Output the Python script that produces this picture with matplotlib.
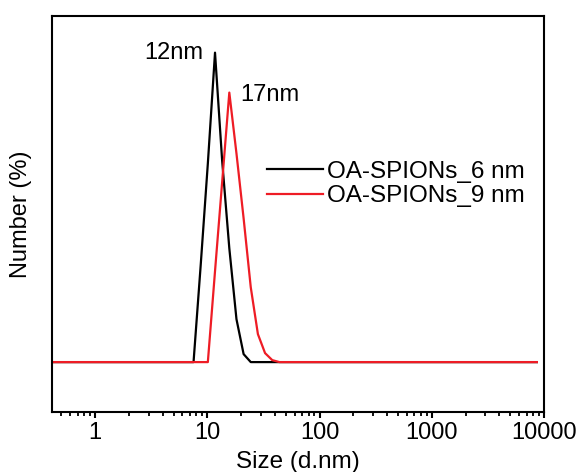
import numpy as np
import matplotlib
matplotlib.use('Agg')
import matplotlib.pyplot as plt

plt.rcParams['font.family'] = ['Liberation Sans', 'DejaVu Sans']

# size bins (d.nm) and number distribution (%)
sizes = [0.4, 7.531, 8.721, 10.10, 11.70, 13.54, 15.69, 18.17, 21.04,
         24.36, 28.21, 32.67, 37.84, 43.82, 8635]
num_6nm = [0, 0, 9.7, 19.9, 31.0, 20.2, 11.4, 4.3, 0.8,
           0, 0, 0, 0, 0, 0]
num_9nm = [0, 0, 0, 0, 9.1, 18.0, 27.0, 20.9, 14.4,
           7.5, 2.8, 0.9, 0.2, 0, 0]
series_names = ['OA-SPIONs_6 nm', 'OA-SPIONs_9 nm']
peak_labels = ['12nm', '17nm']
tick_vals = [1, 10, 100, 1000, 10000]
tick_labels = ['1', '10', '100', '1000', '10000']

fig = plt.figure(figsize=(5.8, 4.72), dpi=100)
ax = fig.add_axes([0.0891, 0.1271, 0.8489, 0.8396])

ax.plot(sizes, num_6nm, color='black', linewidth=1.6, label=series_names[0])
ax.plot(sizes, num_9nm, color='#ee1c25', linewidth=1.6, label=series_names[1])

ax.set_xscale('log')
ax.set_xlim(0.41, 10000)
ax.set_ylim(-5, 34.7)

ax.set_xticks(tick_vals)
ax.set_xticklabels(tick_labels)
ax.tick_params(axis='x', which='major', direction='out', length=4.5, width=1.5,
               labelsize=17, pad=3)
ax.tick_params(axis='x', which='minor', direction='out', length=2.8, width=1.3)
ax.tick_params(axis='y', left=False, labelleft=False)

for s in ax.spines.values():
    s.set_linewidth(1.5)

ax.set_xlabel('Size (d.nm)', fontsize=17.5, labelpad=5)
ax.set_ylabel('Number (%)', fontsize=17, labelpad=14)

ax.text(9.22, 30.4, peak_labels[0], fontsize=17, ha='right', va='baseline')
ax.text(19.6, 26.2, peak_labels[1], fontsize=17, ha='left', va='baseline')

ax.legend(loc='center left', bbox_to_anchor=(0.4367, 0.5758), frameon=False,
          fontsize=17.5, handlelength=2.3, handletextpad=0.2, labelspacing=0.1,
          borderpad=0, borderaxespad=0)

fig.savefig('out.png', dpi=100)
